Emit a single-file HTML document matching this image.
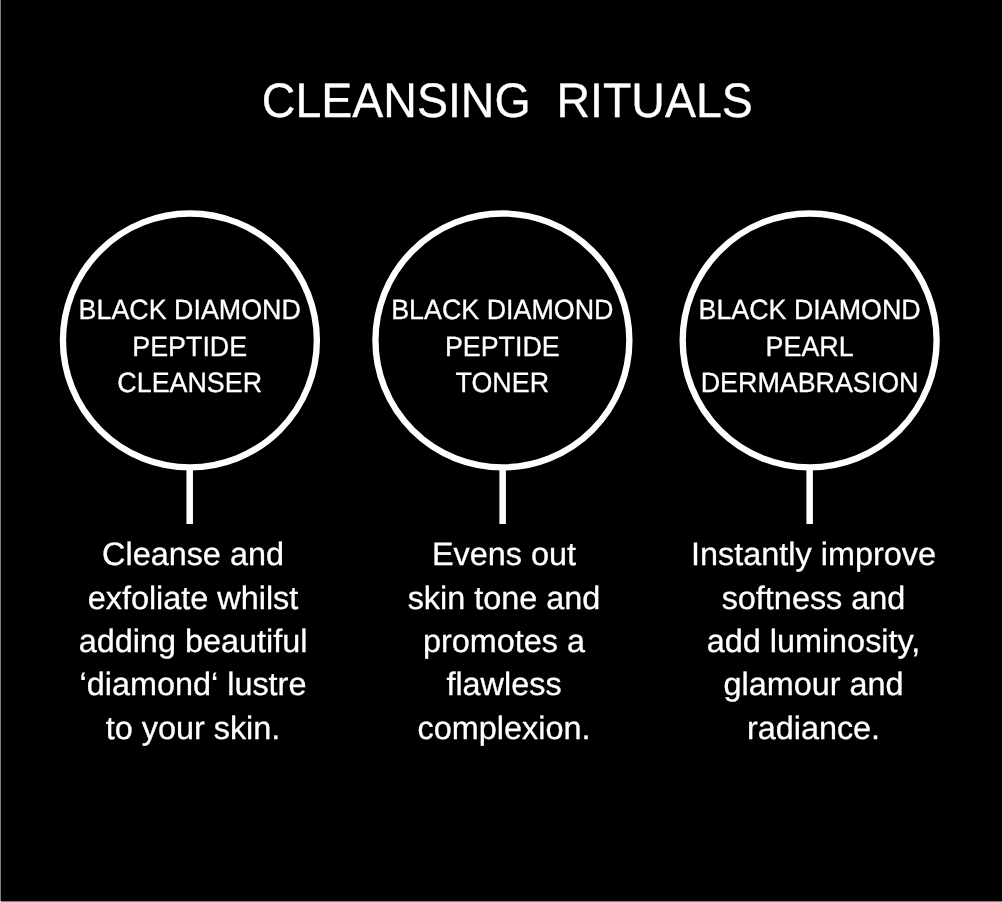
<!DOCTYPE html>
<html lang="en">
<head>
<meta charset="utf-8">
<title>Cleansing Rituals</title>
<style>
  html, body { margin: 0; padding: 0; background: #000; }
  body { width: 1002px; height: 902px; overflow: hidden; position: relative; }
  svg { position: absolute; left: 0; top: 0; display: block; will-change: transform; }
  text { font-family: "Liberation Sans", Arial, Helvetica, sans-serif; fill: #fff; text-anchor: middle; text-rendering: geometricPrecision; stroke: #fff; stroke-width: 0.3px; stroke-linejoin: round; }
  .title { font-size: 46.5px; white-space: pre; }
  .label { font-size: 26.85px; }
  .cap { font-size: 32.4px; }
  .ring { fill: none; stroke: #fff; stroke-width: 6.35; }
  .stem { fill: #fff; }
</style>
</head>
<body>
<svg width="1002" height="902" viewBox="0 0 1002 902">
  <rect x="0" y="0" width="1002" height="902" fill="#000"/>
  <!-- thin edge lines (left + bottom) -->
  <rect x="0" y="0" width="1" height="902" fill="#808080"/>
  <rect x="0" y="901" width="1002" height="1" fill="#808080"/>
  <rect x="0" y="901" width="1" height="1" fill="#e8e8e8"/>
  <!-- heading -->
  <text class="title" xml:space="preserve" transform="translate(507.3 116.6) scale(1 1.0405)">CLEANSING  RITUALS</text>

  <!-- product 1 -->
  <circle class="ring" cx="189.9" cy="340.4" r="126.95"/>
  <rect class="stem" x="186.45" y="468" width="6.5" height="56"/>
  <text class="label" transform="translate(189.7 319.0) scale(1 1.0405)">BLACK DIAMOND</text>
  <text class="label" transform="translate(189.7 355.9) scale(1 1.0405)">PEPTIDE</text>
  <text class="label" transform="translate(189.7 392.0) scale(1 1.0405)">CLEANSER</text>

  <!-- product 2 -->
  <circle class="ring" cx="502.4" cy="340.4" r="126.95"/>
  <rect class="stem" x="499.4" y="468" width="6.5" height="56"/>
  <text class="label" transform="translate(502.3 319.0) scale(1 1.0405)">BLACK DIAMOND</text>
  <text class="label" transform="translate(502.3 355.9) scale(1 1.0405)">PEPTIDE</text>
  <text class="label" transform="translate(502.3 392.0) scale(1 1.0405)">TONER</text>

  <!-- product 3 -->
  <circle class="ring" cx="809.65" cy="340.4" r="126.95"/>
  <rect class="stem" x="806.4" y="468" width="6.5" height="56"/>
  <text class="label" transform="translate(809.6 319.0) scale(1 1.0405)">BLACK DIAMOND</text>
  <text class="label" transform="translate(809.6 355.9) scale(1 1.0405)">PEARL</text>
  <text class="label" transform="translate(809.6 392.0) scale(1 1.0405)">DERMABRASION</text>

  <!-- description 1 -->
  <text class="cap" x="193.0" y="565.2">Cleanse and</text>
  <text class="cap" x="193.0" y="608.55">exfoliate whilst</text>
  <text class="cap" x="193.0" y="651.9">adding beautiful</text>
  <text class="cap" x="193.0" y="695.25">‘diamond‘ lustre</text>
  <text class="cap" x="193.0" y="738.6">to your skin.</text>

  <!-- description 2 -->
  <text class="cap" x="504.0" y="565.2">Evens out</text>
  <text class="cap" x="504.0" y="608.55">skin tone and</text>
  <text class="cap" x="504.0" y="651.9">promotes a</text>
  <text class="cap" x="504.0" y="695.25">flawless</text>
  <text class="cap" x="504.0" y="738.6">complexion.</text>

  <!-- description 3 -->
  <text class="cap" x="813.5" y="565.2">Instantly improve</text>
  <text class="cap" x="813.5" y="608.55">softness and</text>
  <text class="cap" x="813.5" y="651.9">add luminosity,</text>
  <text class="cap" x="813.5" y="695.25">glamour and</text>
  <text class="cap" x="813.5" y="738.6">radiance.</text>
</svg>
</body>
</html>
